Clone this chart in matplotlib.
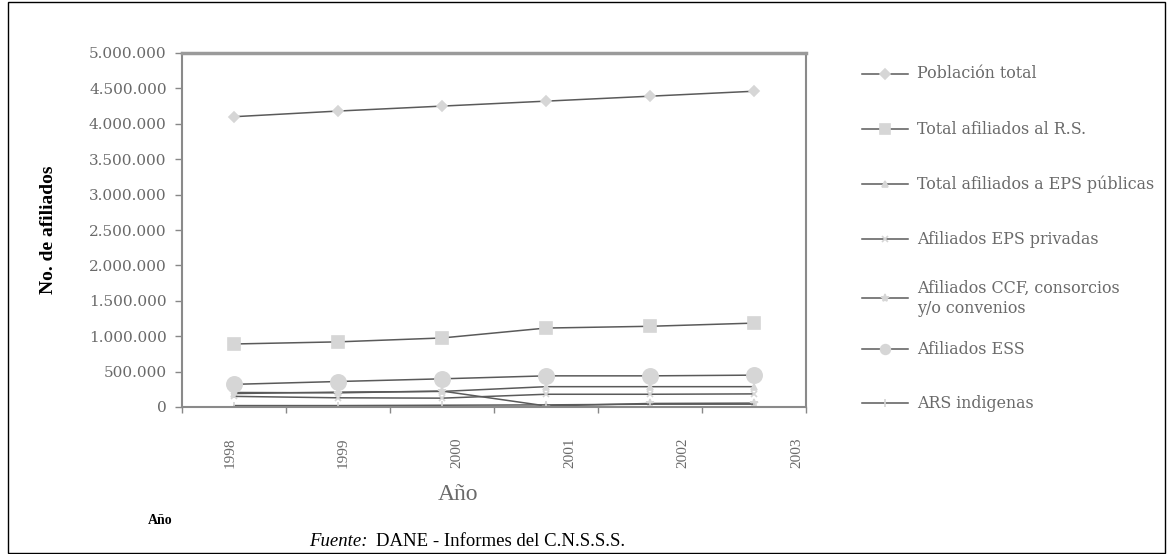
import matplotlib.pyplot as plt
from matplotlib.lines import Line2D
from matplotlib.patches import Rectangle
from matplotlib.ticker import FuncFormatter
import numpy as np

plt.rcParams['font.family'] = ['Liberation Serif', 'DejaVu Serif']

# datos
anios = ['1998', '1999', '2000', '2001', '2002', '2003']
poblacion_total = [4100000, 4180000, 4250000, 4320000, 4390000, 4460000]
total_rs = [890000, 920000, 975000, 1115000, 1140000, 1185000]
eps_publicas = [190000, 210000, 220000, 287000, 287000, 287000]
eps_privadas = [150000, 130000, 125000, 180000, 180000, 185000]
ccf_consorcios = [205000, 200000, 225000, 15000, 50000, 55000]
afiliados_ess = [320000, 360000, 398000, 440000, 440000, 450000]
ars_indigenas = [20000, 20000, 25000, 30000, 40000, 40000]

series = [
    ('Población total', poblacion_total, 'D', 5),
    ('Total afiliados al R.S.', total_rs, 's', 8),
    ('Total afiliados a EPS públicas', eps_publicas, '^', 4),
    ('Afiliados EPS privadas', eps_privadas, 'x', 4),
    ('Afiliados CCF, consorcios\ny/o convenios', ccf_consorcios, '*', 6),
    ('Afiliados ESS', afiliados_ess, 'o', 11),
    ('ARS indigenas', ars_indigenas, '|', 6),
]

linea = '#5a5a5a'
marca = '#d6d6d6'
texto = '#6a6a6a'
ancha = 'DejaVu Serif'  # la fuente del original es mas ancha que Times

W, H = 1170, 554
fig = plt.figure(figsize=(W / 100, H / 100), dpi=100)
ax = fig.add_axes([182 / W, 1 - 407 / H, (806 - 182) / W, (407 - 53) / H])

x = np.arange(len(anios))
for nombre, vals, mk, ms in series:
    ax.plot(x, vals, color=linea, lw=1.1, marker=mk, ms=ms,
            markerfacecolor=marca, markeredgecolor=marca, mew=1.2)

ax.set_xlim(-0.5, 5.5)
ax.set_ylim(0, 5000000)
ax.set_yticks(np.arange(0, 5000001, 500000))
ax.yaxis.set_major_formatter(FuncFormatter(lambda v, p: f'{int(v):,}'.replace(',', '.')))
ax.tick_params(axis='y', colors='#888888', labelcolor=texto, labelsize=11,
               length=5, width=1, direction='out', pad=6)
for t in ax.get_yticklabels():
    t.set_family(ancha)

# marcas del eje x en los limites de categoria, etiquetas corridas como en el original
ax.set_xticks(np.arange(-0.5, 6, 1.0))
ax.set_xticklabels([])
ax.set_xticks([i * 1.09 - 0.04 for i in range(len(anios))], minor=True)
ax.set_xticklabels(anios, minor=True, rotation=90)
ax.tick_params(axis='x', which='major', colors='#888888', length=4, width=1)
ax.tick_params(axis='x', which='minor', length=0, labelsize=11, labelcolor=texto, pad=22)

for s in ['left', 'bottom', 'right']:
    ax.spines[s].set_color('#8a8a8a')
    ax.spines[s].set_linewidth(1.5)
ax.spines['top'].set_color('#9a9a9a')
ax.spines['top'].set_linewidth(2.5)

ax.set_ylabel('No. de afiliados', fontsize=14, fontweight='bold')
ax.yaxis.set_label_coords(-0.2, 0.5)

# leyenda manual
ley_y = [74, 129, 184, 239, 298, 349, 403]
for (nombre, vals, mk, ms), yy in zip(series, ley_y):
    fy = 1 - yy / H
    fig.add_artist(Line2D([862 / W, 908 / W], [fy, fy], color=linea, lw=1.1))
    fig.add_artist(Line2D([885 / W], [fy], marker=mk, ms=min(ms, 7), color=marca,
                          markerfacecolor=marca, markeredgecolor=marca, mew=1.2))
    fig.text(917 / W, fy, nombre, fontsize=11.4, family=ancha, color=texto,
             va='center', ha='left', linespacing=1.25)

fig.text(458 / W, 1 - 495 / H, 'Año', fontsize=17, color=texto, ha='center', va='center')
fig.text(160 / W, 1 - 521 / H, 'Año', fontsize=10, fontweight='bold', ha='center', va='center')
fig.text(368 / W, 1 - 542 / H, 'Fuente:', fontsize=13.5, style='italic', ha='right', va='center')
fig.text(376 / W, 1 - 542 / H, 'DANE - Informes del C.N.S.S.S.', fontsize=13.5,
         ha='left', va='center')

fig.add_artist(Rectangle((8 / W, 1 / H), (1165 - 8) / W, (552 - 1) / H,
                         transform=fig.transFigure, fill=False, ec='black', lw=1))

fig.savefig('out.png', dpi=100)
